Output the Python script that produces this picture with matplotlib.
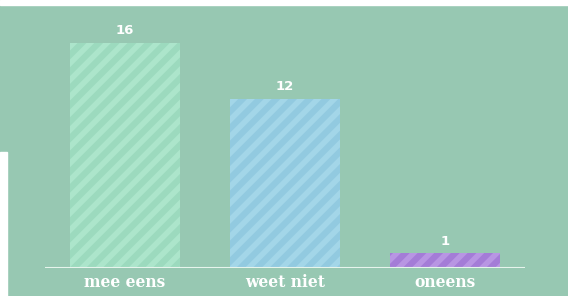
import matplotlib
matplotlib.use('Agg')
import matplotlib.pyplot as plt
from matplotlib.patches import Rectangle

categories = ['mee eens', 'weet niet', 'oneens']
counts = [16, 12, 1]
bar_colors = ['#9cdabe', '#92cae0', '#a47cd7']
stripe_colors = ['#ace5cb', '#a3d6e8', '#b895e3']

bg = '#97c8b2'
plt.rcParams['hatch.linewidth'] = 4.0

fig = plt.figure(figsize=(5.68, 2.96), dpi=100, facecolor=bg)
ax = fig.add_axes([45 / 568, 28.5 / 296, 480 / 568, 262.5 / 296])
ax.set_facecolor(bg)

x = range(len(categories))
bars = ax.bar(x, counts, width=0.69, color=bar_colors, edgecolor=stripe_colors,
              linewidth=0, hatch='//')
for b in bars:
    b.set_hatch_linewidth(4.0)

for rect, n in zip(bars, counts):
    ax.text(rect.get_x() + rect.get_width() / 2, n + 0.4, str(n),
            ha='center', va='bottom', color='white', fontsize=9.5,
            fontweight='bold', family='DejaVu Sans')

ax.set_xlim(-0.5, 2.5)
ax.set_ylim(0, 18.67)
ax.axhline(0, color='#e6f4ec', lw=1.5, zorder=5)
for s in ax.spines.values():
    s.set_visible(False)
ax.set_yticks([])
ax.set_xticks(list(x))
ax.set_xticklabels(categories, color='white', fontsize=11.2,
                   fontweight='bold', family='DejaVu Serif')
ax.tick_params(axis='x', length=0, pad=5)

# white screenshot edges
fig.patches.append(Rectangle((0, 1 - 5 / 296), 1, 5 / 296, transform=fig.transFigure,
                             color='white', zorder=10))
fig.patches.append(Rectangle((0, 0), 7 / 568, 144 / 296, transform=fig.transFigure,
                             color='white', zorder=10))

fig.savefig('out.png', dpi=100, facecolor=bg)
